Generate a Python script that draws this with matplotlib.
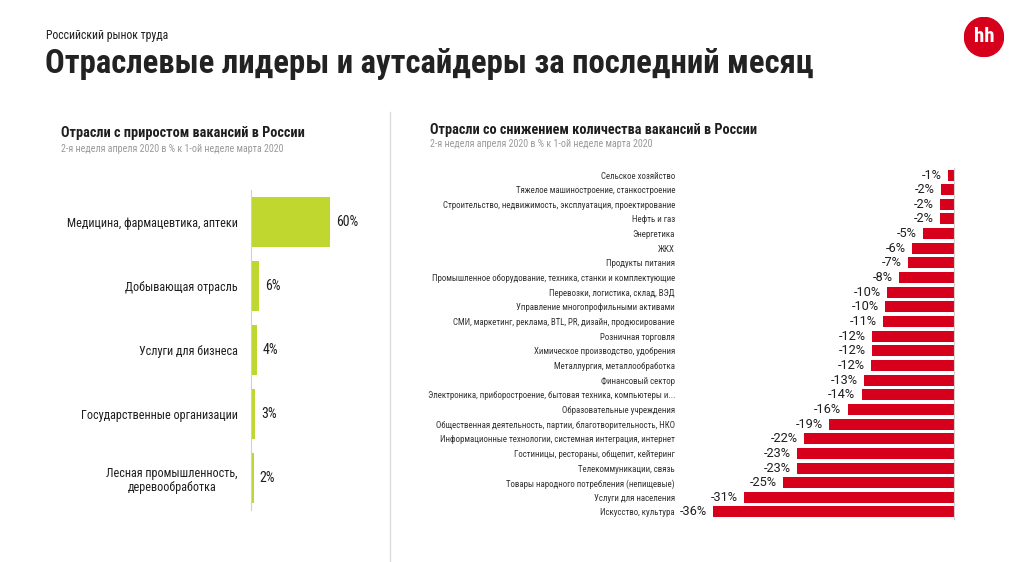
import matplotlib.pyplot as plt
from matplotlib.patches import Circle

W, H = 1022, 562

# данные: отрасли с приростом
grow_names = ["Медицина, фармацевтика, аптеки", "Добывающая отрасль", "Услуги для бизнеса",
              "Государственные организации", "Лесная промышленность,\nдеревообработка"]
grow_vals = [60, 6.3, 4.8, 3.3, 2.3]
grow_labels = ["60%", "6%", "4%", "3%", "2%"]

# данные: отрасли со снижением
drop_names = ["Сельское хозяйство", "Тяжелое машиностроение, станкостроение",
              "Строительство, недвижимость, эксплуатация, проектирование", "Нефть и газ",
              "Энергетика", "ЖКХ", "Продукты питания",
              "Промышленное оборудование, техника, станки и комплектующие",
              "Перевозки, логистика, склад, ВЭД", "Управление многопрофильными активами",
              "СМИ, маркетинг, реклама, BTL, PR, дизайн, продюсирование", "Розничная торговля",
              "Химическое производство, удобрения", "Металлургия, металлообработка",
              "Финансовый сектор",
              "Электроника, приборостроение, бытовая техника, компьютеры и...",
              "Образовательные учреждения",
              "Общественная деятельность, партии, благотворительность, НКО",
              "Информационные технологии, системная интеграция, интернет",
              "Гостиницы, рестораны, общепит, кейтеринг", "Телекоммуникации, связь",
              "Товары народного потребления (непищевые)", "Услуги для населения",
              "Искусство, культура"]
drop_vals = [-0.9, -1.9, -2.1, -2.1, -4.7, -6.2, -6.9, -8.2, -10.0, -10.3, -10.6, -12.2,
             -12.2, -12.4, -13.4, -13.8, -15.9, -18.7, -22.4, -23.4, -23.5, -25.5, -31.3, -36]
drop_labels = ["-1%", "-2%", "-2%", "-2%", "-5%", "-6%", "-7%", "-8%", "-10%", "-10%", "-11%",
               "-12%", "-12%", "-12%", "-13%", "-14%", "-16%", "-19%", "-22%", "-23%", "-23%",
               "-25%", "-31%", "-36%"]

GREEN = "#C0D72F"
RED = "#D6001C"
DARK = "#1E1E1E"
GRAY = "#9A9A9A"

plt.rcParams['font.family'] = ["Roboto Condensed", "DejaVu Sans"]


def box(x0, y0, x1, y1):
    # пиксели -> доли фигуры
    return [x0 / W, 1 - y1 / H, (x1 - x0) / W, (y1 - y0) / H]


fig = plt.figure(figsize=(W / 100, H / 100), dpi=100)
fig.patch.set_facecolor("white")

# шапка
fig.text(46 / W, 1 - 35 / H, "Российский рынок труда", fontsize=8.5, color=DARK, va="center")
fig.text(45 / W, 1 - 64 / H, "Отраслевые лидеры и аутсайдеры за последний месяц",
         fontsize=23.6, fontweight="bold", color="#222222", va="center")

logo = fig.add_axes(box(964, 17, 1004, 57))
logo.set_xlim(-1, 1)
logo.set_ylim(-1, 1)
logo.set_aspect("equal")
logo.axis("off")
logo.add_patch(Circle((0, 0), 0.98, color=RED))
logo.text(0, 0.0, "hh", color="white", fontsize=15, fontweight="bold", ha="center", va="center")

# разделитель
fig.add_artist(plt.Line2D([390 / W, 390 / W], [1 - 112 / H, 0], color="#DDDDDD", lw=1))

# левая панель
fig.text(61 / W, 1 - 133 / H, "Отрасли с приростом вакансий в России", fontsize=10.3,
         fontweight="bold", color=DARK, va="center")
fig.text(61 / W, 1 - 149 / H, "2-я неделя апреля 2020 в % к 1-ой неделе марта 2020",
         fontsize=7.2, color=GRAY, va="center")

ax1 = fig.add_axes(box(251, 190, 371, 510))
pos = list(range(len(grow_vals)))
ax1.barh(pos, grow_vals, height=0.78, color=GREEN)
ax1.set_ylim(len(grow_vals) - 0.5, -0.5)
ax1.set_xlim(0, 120 / 1.32)
ax1.set_yticks(pos, grow_names)
for t in ax1.get_yticklabels():
    t.set_multialignment("center")
ax1.tick_params(axis="y", length=0, pad=9.5, labelsize=8.7, labelcolor=DARK)
ax1.set_xticks([])
for s in ["top", "right", "bottom"]:
    ax1.spines[s].set_visible(False)
ax1.spines["left"].set_color("#D0D0D0")
for p, v, lab in zip(pos, grow_vals, grow_labels):
    ax1.annotate(lab, (v, p), xytext=(4, 0), textcoords="offset points",
                 va="center", ha="left", fontsize=10, color=DARK)

# правая панель
fig.text(430 / W, 1 - 130 / H, "Отрасли со снижением количества вакансий в России", fontsize=10.3,
         fontweight="bold", color=DARK, va="center")
fig.text(430 / W, 1 - 144 / H, "2-я неделя апреля 2020 в % к 1-ой неделе марта 2020",
         fontsize=7.2, color=GRAY, va="center")

ax2 = fig.add_axes(box(690, 167.7, 954, 519.3))
pos2 = list(range(len(drop_vals)))
ax2.barh(pos2, drop_vals, height=0.75, color=RED)
ax2.set_ylim(len(drop_vals) - 0.5, -0.5)
ax2.set_xlim(-264 / (241 / 36), 0)
ax2.set_yticks(pos2, drop_names)
ax2.tick_params(axis="y", length=0, pad=10.8, labelsize=6.4, labelcolor="#333333")
ax2.set_xticks([])
for s in ["top", "left", "bottom"]:
    ax2.spines[s].set_visible(False)
ax2.spines["right"].set_color("#D0D0D0")
for p, v, lab in zip(pos2, drop_vals, drop_labels):
    ax2.annotate(lab, (v, p), xytext=(-4.5, 0), textcoords="offset points",
                 va="center", ha="right", fontsize=9.2, color=DARK,
                 family=["Roboto", "DejaVu Sans"])

fig.savefig("out.png", dpi=100, facecolor="white")
